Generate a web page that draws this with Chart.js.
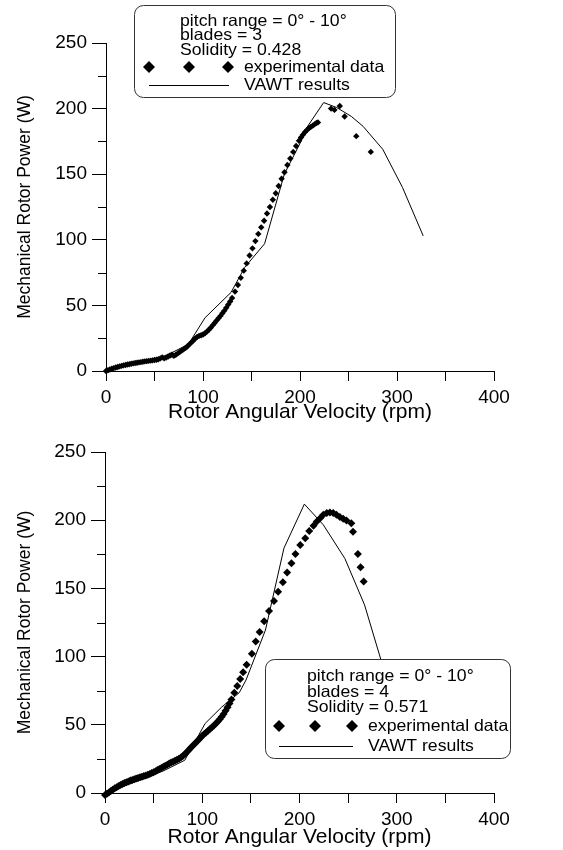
<!DOCTYPE html>
<html>
<head>
<meta charset="utf-8">
<script src="https://cdn.jsdelivr.net/npm/chart.js@4.4.0/dist/chart.umd.min.js"></script>
<style>
  html, body { margin: 0; padding: 0; background: #fff; }
  .panel { position: relative; width: 563px; height: 425px; }
</style>
</head>
<body>
<div class="panel"><canvas id="chart-top"></canvas></div>
<div class="panel"><canvas id="chart-bottom"></canvas></div>
<script>
// ---- data ----
const seriesLabels = ['experimental data', 'VAWT results'];
const xTickLabels = [0, 100, 200, 300, 400];
const yTickLabels = [0, 50, 100, 150, 200, 250];

// top panel: 3 blades
const topExpRpm = [0, 2, 4, 6, 8, 10, 12, 14, 16, 18, 20, 22, 24, 26, 28, 30, 32, 34, 36, 38, 40,
  42, 44, 46, 48, 50, 52, 54, 56, 58, 60, 62, 64, 66, 68, 70, 72, 74, 76, 78, 80, 82, 84, 86, 88,
  90, 92, 94, 96, 98, 100, 102, 104, 106, 108, 110, 112, 114, 116, 118, 120, 122, 124, 126, 128,
  130, 133, 136, 139, 142, 145, 148, 151, 154, 157, 160, 163, 166, 169, 172, 175, 178, 181, 184,
  187, 190, 193, 196, 199, 201, 203, 205, 207, 209, 211, 213, 215, 217, 218.5,
  232, 235.5, 241, 246, 258, 273];
const topExpPower = [0, 0.6, 1.2, 1.7, 2.2, 2.7, 3.1, 3.5, 3.9, 4.3, 4.6, 4.9, 5.2, 5.5, 5.8, 6.1,
  6.3, 6.6, 6.8, 7.0, 7.3, 7.5, 7.7, 7.9, 8.1, 8.4, 8.6, 8.9, 9.6, 10.4, 9.7, 10.3, 11.0, 11.8,
  12.4, 11.6, 12.4, 13.4, 14.4, 15.5, 16.5, 17.6, 18.9, 20.3, 21.8, 23.3, 24.8, 26.0, 26.8, 27.2,
  27.8, 28.8, 30.0, 31.4, 33.0, 34.8, 36.6, 38.4, 40.2, 42.0, 44.0, 46.0, 48.2, 50.6, 53.0,
  55.6, 60.5, 65.5, 71, 76.5, 82, 88, 93.5, 99, 104.5, 109.5, 114.5, 120, 125, 130.5, 135.5, 141,
  146.5, 151.5, 157, 162, 167, 171.5, 175.5, 178, 180, 182, 183.5, 185, 186, 187, 188, 189, 189.5,
  200, 199, 202, 194, 179, 167];
const topVawtRpm = [0, 20, 40, 60, 85, 102, 129, 143, 163.5, 183.8, 200.7, 207.4, 224.4, 237.9,
  253, 265, 285.3, 305.6, 327];
const topVawtPower = [0, 3.8, 7.3, 11, 20.4, 40.5, 60, 79, 97, 150, 174.5, 186, 204.6, 200.8,
  194, 186.5, 169, 140, 103];
const topNotes = ['pitch range = 0° - 10°', 'blades = 3', 'Solidity = 0.428'];

// bottom panel: 4 blades
const botExpRpm = [0, 2, 4, 6, 8, 10, 12, 14, 16, 18, 20, 22, 24, 26, 28, 30, 32, 34, 36, 38, 40,
  42, 44, 46, 48, 50, 52, 54, 56, 58, 60, 62, 64, 66, 68, 70, 72, 74, 76, 78, 80, 82, 84, 86, 88,
  90, 92, 94, 96, 98, 100, 102, 104, 106, 108, 110, 112, 114, 116, 118, 120, 122, 124, 126, 128,
  130, 133, 136, 139, 142, 145.6, 151, 155, 159, 163.6, 168.7, 173.8, 178, 182.9, 187.3, 191.7,
  195.8, 200.8, 205.9, 210, 214.4, 217.8, 221.2, 224.5, 228, 231.3, 234.7, 238, 241.5, 244.9,
  248.3, 253.3, 255, 260, 262.8, 266];
const botExpPower = [-1.5, -0.6, 0.4, 1.4, 2.4, 3.4, 4.3, 5.1, 5.9, 6.6, 7.3, 7.9, 8.5, 9.1, 9.6,
  10.1, 10.6, 11.0, 11.5, 11.9, 12.4, 12.9, 13.4, 13.9, 14.6, 15.3, 16.0, 16.8, 17.6, 18.4, 19.2,
  20.0, 20.8, 21.6, 22.3, 23.0, 23.7, 24.4, 25.2, 26.1, 27.2, 28.4, 29.9, 31.4, 32.9, 34.4, 35.9,
  37.4, 38.9, 40.4, 41.9, 43.2, 44.4, 45.7, 46.9, 48.2, 49.5, 50.9, 52.4, 54.0, 55.9, 57.9, 60.3,
  62.8, 65.6, 68.6, 73.5, 78.5, 83.5, 88.5, 94, 102, 111, 118, 126, 133.4, 140.8, 147.6, 154.5,
  161.6, 168.5, 175.3, 181.9, 186.8, 192, 195.9, 199, 201.5, 204, 205.2, 205.7, 205.2, 204,
  202.3, 201, 199.8, 197.8, 191.5, 175.3, 165.5, 155];
const botVawtRpm = [0, 20, 40, 60, 82, 103, 120, 138, 145, 165, 184, 205, 224.5, 246.6, 266.9,
  283.8, 300, 318];
const botVawtPower = [0, 5.2, 10.5, 16.2, 24, 51, 63, 73.5, 82.8, 119.5, 179.5, 211.8, 196.6,
  172, 137.9, 97.5, 62, 28];
const botNotes = ['pitch range = 0° - 10°', 'blades = 4', 'Solidity = 0.571'];

Chart.defaults.font.family = '"Liberation Sans", Arial, sans-serif';
Chart.defaults.color = '#000';

const toPoints = (xs, ys) => xs.map((x, i) => ({ x, y: ys[i] }));

// short minor ticks on the power axis (25, 75, ...)
const minorTicks = {
  id: 'minorTicks',
  afterDraw(chart) {
    const { ctx, chartArea } = chart;
    const y = chart.scales.y;
    ctx.save();
    ctx.strokeStyle = '#000';
    ctx.lineWidth = 1;
    for (let v = 25; v < 250; v += 50) {
      const py = Math.round(y.getPixelForValue(v)) + 0.5;
      ctx.beginPath();
      ctx.moveTo(chartArea.left - 8, py);
      ctx.lineTo(chartArea.left, py);
      ctx.stroke();
    }
    ctx.restore();
  }
};

// rounded note box with the legend
const noteBox = {
  id: 'noteBox',
  afterDraw(chart, args, o) {
    const ctx = chart.ctx;
    const put = (t, x, y) => {
      ctx.save();
      ctx.translate(x, y);
      ctx.scale(1.07, 1);
      ctx.fillText(t, 0, 0);
      ctx.restore();
    };
    ctx.save();
    ctx.beginPath();
    ctx.roundRect(o.x + 0.5, o.y + 0.5, o.w, o.h, 9);
    ctx.fillStyle = '#fff';
    ctx.fill();
    ctx.strokeStyle = '#333';
    ctx.lineWidth = 1;
    ctx.stroke();

    ctx.fillStyle = '#000';
    ctx.font = '16.5px "Liberation Sans", Arial, sans-serif';
    ctx.textBaseline = 'middle';
    o.lines.forEach((t, i) => put(t, o.x + o.textX, o.y + o.lineY[i]));

    // diamonds row
    const dy = o.y + o.markY;
    o.markX.forEach(mx => {
      const cx = o.x + mx, r = 6;
      ctx.beginPath();
      ctx.moveTo(cx, dy - r);
      ctx.lineTo(cx + r, dy);
      ctx.lineTo(cx, dy + r);
      ctx.lineTo(cx - r, dy);
      ctx.closePath();
      ctx.fill();
    });
    const labels = chart.data.datasets.map(d => d.label);
    put(labels[0], o.x + o.labelX, dy);

    // line row
    const ly = Math.round(o.y + o.lineRowY) + 0.5;
    ctx.beginPath();
    ctx.moveTo(o.x + o.markX[0], ly);
    ctx.lineTo(o.x + o.markX[2] + 1, ly);
    ctx.strokeStyle = '#000';
    ctx.stroke();
    put(labels[1], o.x + o.labelX, ly);
    ctx.restore();
  }
};

function makeChart(id, exp, vawt, layout, box, radius) {
  return new Chart(document.getElementById(id), {
    type: 'scatter',
    data: {
      datasets: [
        {
          label: seriesLabels[0],
          data: exp,
          pointStyle: 'rectRot',
          pointRadius: radius,
          backgroundColor: '#000',
          borderWidth: 0,
          showLine: false,
          clip: false
        },
        {
          label: seriesLabels[1],
          data: vawt,
          showLine: true,
          pointRadius: 0,
          borderColor: '#000',
          borderWidth: 1,
          tension: 0,
          clip: false
        }
      ]
    },
    options: {
      responsive: true,
      maintainAspectRatio: false,
      animation: false,
      layout: { padding: { top: layout.top, right: layout.right, left: 0, bottom: 0 } },
      scales: {
        x: {
          type: 'linear',
          min: 0,
          max: 400,
          afterFit: (s) => { s.height = layout.xHeight; },
          grid: { drawOnChartArea: false, tickLength: 10, color: '#000' },
          border: { color: '#000', width: 1 },
          ticks: {
            stepSize: 50,
            autoSkip: false,
            maxRotation: 0,
            padding: 5,
            font: { size: 19 },
            callback: (v) => xTickLabels.includes(v) ? v : ''
          },
          title: {
            display: true,
            text: 'Rotor Angular Velocity (rpm)',
            font: { size: 21 },
            padding: { top: 0, bottom: 0 }
          }
        },
        y: {
          min: 0,
          max: 250,
          afterFit: (s) => { s.width = layout.yWidth; },
          grid: { drawOnChartArea: false, tickLength: 14, color: '#000' },
          border: { color: '#000', width: 1 },
          ticks: {
            stepSize: 50,
            padding: 5,
            font: { size: 19 },
            callback: (v) => yTickLabels.includes(v) ? v : ''
          },
          title: {
            display: true,
            text: 'Mechanical Rotor Power (W)',
            font: { size: 17.5 },
            padding: { top: 15, bottom: 0 }
          }
        }
      },
      plugins: {
        legend: { display: false },
        tooltip: { enabled: false },
        noteBox: box
      }
    },
    plugins: [minorTicks, noteBox]
  });
}

makeChart('chart-top',
  toPoints(topExpRpm, topExpPower),
  toPoints(topVawtRpm, topVawtPower),
  { top: 43, right: 69, xHeight: 54, yWidth: 106 },
  { x: 134, y: 5, w: 261, h: 92, textX: 46, lineY: [16, 30, 45], lines: topNotes,
    markX: [15, 55, 94], markY: 62, labelX: 110, lineRowY: 80 },
  3.2);

makeChart('chart-bottom',
  toPoints(botExpRpm, botExpPower),
  toPoints(botVawtRpm, botVawtPower),
  { top: 27, right: 69, xHeight: 57, yWidth: 105 },
  { x: 265, y: 234, w: 245, h: 99, textX: 42, lineY: [17, 33, 48], lines: botNotes,
    markX: [14, 50, 87], markY: 67, labelX: 103, lineRowY: 87 },
  4);
</script>
</body>
</html>
